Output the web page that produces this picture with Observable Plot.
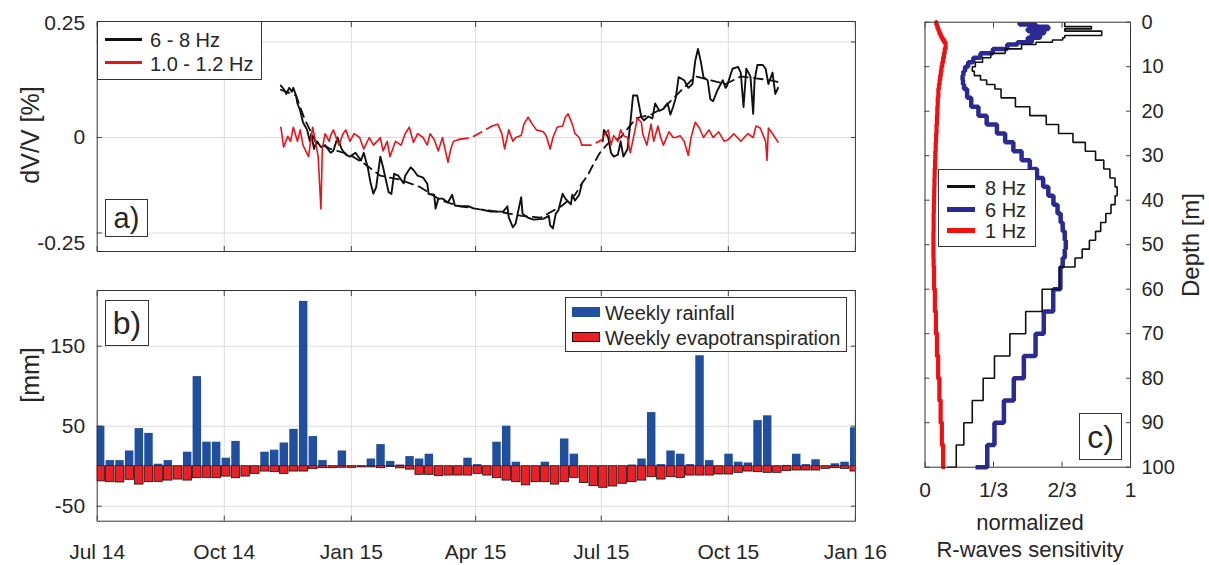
<!DOCTYPE html>
<html><head><meta charset="utf-8">
<script src="https://cdn.jsdelivr.net/npm/d3@7"></script>
<script src="https://cdn.jsdelivr.net/npm/@observablehq/plot@0.6"></script>
<style>
body{margin:0;background:#fff;}
#wrap{position:relative;width:1209px;height:565px;overflow:hidden;font-family:"Liberation Sans",Arial,sans-serif;color:#262626;background:#fff;}
#wrap svg{position:absolute;}
.box{position:absolute;border:1px solid #333;background:#fff;box-sizing:border-box;}
.t{position:absolute;white-space:nowrap;line-height:1;}
.rot{position:absolute;white-space:nowrap;line-height:1;transform:translate(-50%,-50%) rotate(-90deg);}
.ctr{position:absolute;white-space:nowrap;line-height:1;transform:translate(-50%,-50%);}
.sw{position:absolute;}
</style></head><body><div id="wrap"></div>
<script>
// ---------- DATA ----------
const monthTicks = ["2014-07-01","2014-10-01","2015-01-01","2015-04-01","2015-07-01","2015-10-01","2016-01-01"];
const monthLabels = ["Jul 14","Oct 14","Jan 15","Apr 15","Jul 15","Oct 15","Jan 16"];

// panel a: dV/V 6-8 Hz (raw, null = gap)
const black68Dates = ["2014-11-11","2014-11-13","2014-11-15","2014-11-17","2014-11-19","2014-11-20","2014-11-22","2014-11-23","2014-11-25","2014-11-27","2014-11-30","2014-12-02","2014-12-03","2014-12-05","2014-12-07","2014-12-10","2014-12-13","2014-12-17","2014-12-19","2014-12-22","2014-12-25","2014-12-28","2014-12-31","2015-01-04","2015-01-08","2015-01-10","2015-01-13","2015-01-15","2015-01-17","2015-01-19","2015-01-22","2015-01-24","2015-01-28","2015-01-30","2015-02-01","2015-02-04","2015-02-08","2015-02-09","2015-02-13","2015-02-15","2015-02-18","2015-02-22","2015-02-25","2015-02-26","2015-03-02","2015-03-03","2015-03-05","2015-03-08","2015-03-12","2015-03-15","2015-03-17","2015-03-21","2015-03-27","2015-03-30","2015-04-03",
"2015-04-06","2015-04-12","2015-04-17","2015-04-21","2015-04-24","2015-04-25","2015-04-28","2015-04-30","2015-05-02","2015-05-04","2015-05-05","2015-05-07","2015-05-09","2015-05-13","2015-05-20","2015-05-24","2015-05-25","2015-05-27","2015-05-29","2015-05-31","2015-06-03","2015-06-05","2015-06-09","2015-06-10","2015-06-12","2015-06-15","2015-06-17","2015-06-25",
"2015-07-02","2015-07-03","2015-07-06","2015-07-08","2015-07-10","2015-07-13","2015-07-15","2015-07-17","2015-07-20","2015-07-22","2015-07-24","2015-07-27","2015-07-30","2015-08-01","2015-08-04","2015-08-07","2015-08-09","2015-08-12","2015-08-15","2015-08-18","2015-08-20","2015-08-22","2015-08-24","2015-08-26","2015-08-30","2015-09-02","2015-09-05","2015-09-07","2015-09-09","2015-09-11","2015-09-13","2015-09-16","2015-09-18","2015-09-20","2015-09-23","2015-09-27","2015-09-29","2015-09-30","2015-10-04","2015-10-08","2015-10-10","2015-10-12","2015-10-14","2015-10-17","2015-10-19","2015-10-20","2015-10-22","2015-10-26","2015-10-28","2015-10-30","2015-11-02","2015-11-04","2015-11-06"];
const black68Values = [0.136,0.127,0.114,0.13,0.12,0.13,0.11,0.089,0.07,0.04,0.02,-0.01,0.01,-0.03,-0.01,-0.025,-0.02,-0.04,-0.035,0.0,-0.03,-0.045,-0.05,-0.04,-0.06,-0.04,-0.08,-0.12,-0.147,-0.13,-0.05,-0.078,-0.143,-0.148,-0.095,-0.10,-0.12,-0.10,-0.078,-0.085,-0.10,-0.105,-0.121,-0.148,-0.15,-0.186,-0.16,-0.16,-0.17,-0.15,-0.178,-0.18,-0.18,-0.185,null,
-0.189,-0.194,-0.194,-0.194,-0.18,-0.209,-0.235,-0.225,-0.19,-0.156,-0.2,-0.205,-0.21,-0.215,-0.213,-0.205,-0.23,-0.238,-0.2,-0.19,-0.147,-0.16,-0.175,-0.15,-0.165,-0.15,-0.12,null,
-0.01,0.02,0.0,-0.04,-0.05,-0.045,-0.01,-0.05,-0.03,0.036,0.11,0.11,0.053,0.045,0.055,0.05,0.089,0.07,0.075,0.09,0.06,0.08,0.105,0.158,0.15,0.13,0.14,0.2,0.232,0.2,0.158,0.15,0.1,0.095,0.123,0.15,0.13,0.135,0.18,0.185,0.17,0.08,0.18,0.16,0.062,0.15,0.19,0.19,0.18,0.14,0.17,0.114,0.13];

// panel a: 6-8 Hz smoothed trend (dashed)
const black68TrendDates = ["2014-11-11","2014-11-22","2014-11-28","2014-12-06","2014-12-17","2014-12-31","2015-01-11","2015-01-22","2015-02-05","2015-02-20","2015-03-07","2015-03-21","2015-04-04","2015-04-19","2015-05-04","2015-05-18","2015-06-02","2015-06-12","2015-06-17","2015-06-21","2015-06-26","2015-06-30","2015-07-06","2015-07-15","2015-07-26","2015-08-06","2015-08-16","2015-08-27","2015-09-07","2015-09-18","2015-09-29","2015-10-10","2015-10-21","2015-10-31","2015-11-06"];
const black68TrendValues = [0.125,0.11,0.05,-0.01,-0.03,-0.045,-0.07,-0.10,-0.11,-0.13,-0.165,-0.18,-0.188,-0.195,-0.205,-0.21,-0.18,-0.15,-0.12,-0.10,-0.065,-0.04,-0.015,0.0,0.05,0.06,0.08,0.12,0.16,0.15,0.14,0.16,0.155,0.15,0.145];

// panel a: dV/V 1.0-1.2 Hz (raw, null = gap)
const red1Dates = ["2014-11-11","2014-11-13","2014-11-16","2014-11-18","2014-11-20","2014-11-23","2014-11-25","2014-11-27","2014-12-01","2014-12-04","2014-12-06","2014-12-08","2014-12-10","2014-12-11","2014-12-13","2014-12-16","2014-12-17","2014-12-19","2014-12-23","2014-12-26","2014-12-28","2014-12-31","2015-01-03","2015-01-07","2015-01-10","2015-01-14","2015-01-17","2015-01-21","2015-01-22","2015-01-24","2015-01-27","2015-01-29","2015-02-02","2015-02-06","2015-02-09","2015-02-12","2015-02-15","2015-02-18","2015-02-22","2015-02-25","2015-02-27","2015-03-02","2015-03-05","2015-03-08","2015-03-12","2015-03-14","2015-03-16","2015-03-20","2015-04-01",
"2015-04-13","2015-04-17","2015-04-20","2015-04-22","2015-04-25","2015-04-28","2015-04-30","2015-05-04","2015-05-06","2015-05-09","2015-05-12","2015-05-15","2015-05-20","2015-05-22","2015-05-25","2015-05-27","2015-05-30","2015-06-03","2015-06-05","2015-06-07","2015-06-10","2015-06-12","2015-06-15","2015-06-17","2015-06-25",
"2015-07-02","2015-07-06","2015-07-08","2015-07-10","2015-07-13","2015-07-15","2015-07-17","2015-07-20","2015-07-22","2015-07-26","2015-07-27","2015-07-30","2015-07-31","2015-08-03","2015-08-06","2015-08-08","2015-08-11","2015-08-13","2015-08-15","2015-08-19","2015-08-22","2015-08-24","2015-08-27","2015-08-30","2015-09-02","2015-09-04","2015-09-07","2015-09-10","2015-09-13","2015-09-17","2015-09-20","2015-09-24","2015-09-28","2015-10-01","2015-10-05","2015-10-10","2015-10-15","2015-10-19","2015-10-21","2015-10-24","2015-10-28","2015-10-29","2015-10-30","2015-11-02","2015-11-06"];
const red1Values = [0.027,-0.025,0.003,-0.01,0.027,-0.01,0.02,-0.02,-0.05,0.027,-0.01,-0.05,-0.187,-0.03,0.01,-0.01,0.005,0.02,-0.02,0.01,0.02,-0.01,0.01,0.0,-0.03,0.0,-0.02,-0.005,0.0,-0.035,-0.01,-0.05,-0.01,-0.02,0.01,0.027,-0.013,0.01,0.0,-0.02,0.01,-0.005,-0.035,0.0,-0.065,-0.03,-0.01,-0.005,null,
0.03,0.035,0.01,-0.03,0.02,-0.01,0.0,0.005,0.035,0.053,0.035,0.02,0.015,0.005,-0.03,0.0,0.027,0.03,0.053,0.062,0.035,0.01,0.0,-0.02,null,
0.0,0.02,-0.02,0.005,-0.01,0.02,0.005,0.0,-0.04,0.03,0.05,0.04,0.01,-0.02,0.035,-0.01,0.03,0.0,-0.02,0.015,0.0,0.0,0.005,-0.01,-0.047,0.0,0.04,0.025,0.0,0.02,0.0,0.015,-0.01,-0.005,0.01,-0.01,0.01,0.0,0.03,0.025,-0.01,-0.06,0.025,0.01,-0.012];

// panel a: 1.0-1.2 Hz trend across the gaps (dashed)
const red1TrendDates = ["2015-03-20","2015-03-29","2015-04-04","2015-04-13","2015-05-01","2015-06-17","2015-06-24","2015-07-02"];
const red1TrendValues = [-0.005,0.0,0.012,0.03,null,-0.02,-0.02,-0.005];

const dvTicks = [-0.25, 0, 0.25];
const dvTickLabels = ["-0.25", "0", "0.25"];

// panel b: weekly rainfall and evapotranspiration [mm], weeks from Mon 2014-06-30
const weeklyRainfall = [50,7,7,19,47,41,2.5,7,0,17.5,112,30,30,10,31,0,0,17.5,20,29,46,206,37,7,0,19,0,0,9,27,6,1.5,12,9,15,0,0,0,10,2,0,30,50,5,0,0,5,0,34,15,0,0,0,0,0,1.5,9,67,2,19,15,2,138,7,0,15,5,4,57,63,0,1,15,2,8,0,3,5,48];
const weeklyET = [-19,-20,-20.4,-17,-23,-20,-19.6,-18,-16.7,-18,-15,-14.6,-15,-13,-15,-13,-9.6,-6.7,-7.5,-9.6,-6.7,-6.7,-3.75,-2.5,-2.5,-2,-2,-1.5,-1.5,-2.5,-1,-2.7,-4.3,-10.8,-10.8,-12.5,-11.7,-11.7,-11.7,-9.6,-11.7,-15,-18,-20,-24,-20,-20,-23,-20,-14.6,-21,-25,-27,-25.4,-22,-20,-18,-13.75,-16.7,-13.75,-14.6,-11.7,-11.7,-11.7,-10.4,-10.4,-8.3,-6.7,-7.5,-8.3,-8.3,-6.25,-5.4,-5.4,-5.4,-3.3,-2.5,-3.3,-6.7];
const mmTicks = [-50, 50, 150];

// panel c: layered sensitivity profiles (layer bottoms in m)
const layerBottoms = [0.5,1,1.5,2,2.5,3,3.5,4,4.5,5,6,7,8,9,10,11,12,13,14,15,17,19,21,23,25,27,29,31,33,35,37,39,41,43,45,47,49,51,53,55,60,65,70,75,80,85,90,95,100];
const sens8Hz = [0.68,0.68,0.81,0.68,0.86,0.86,0.68,0.67,0.62,0.54, 0.47,0.39,0.32,0.28,0.245,0.23,0.24,0.27,0.30,0.34, 0.37,0.44,0.51,0.59,0.65,0.72,0.78,0.83,0.87,0.90,0.925,0.935,0.925,0.905,0.88,0.855,0.83,0.80,0.765,0.73, 0.655,0.57,0.49,0.413,0.338,0.283,0.23,0.189,0.152];
const sens8HzHalfSpace = 0.108;
const sens6Hz = [0.46,0.54,0.60,0.50,0.58,0.52,0.56,0.50,0.52,0.45, 0.40,0.33,0.27,0.235,0.21,0.195,0.187,0.183,0.185,0.19, 0.205,0.225,0.26,0.30,0.35,0.39,0.43,0.47,0.51,0.545,0.575,0.60,0.625,0.645,0.66,0.67,0.68,0.685,0.68,0.67, 0.659,0.624,0.578,0.538,0.481,0.432,0.384,0.338,0.303];
const sens6HzHalfSpace = 0.246;
const sens1Hz = [0.055,0.058,0.062,0.066,0.07,0.075,0.08,0.086,0.093,0.10, 0.10,0.096,0.092,0.088,0.084,0.08,0.077,0.074,0.071,0.068, 0.065,0.062,0.06,0.058,0.056,0.054,0.052,0.05,0.049,0.047,0.046,0.045,0.044,0.043,0.042,0.042,0.041,0.041,0.041,0.042, 0.044,0.048,0.053,0.058,0.064,0.07,0.076,0.082,0.088];
const sens1HzHalfSpace = 0.09;
const depthTicks = [0,10,20,30,40,50,60,70,80,90,100];
const sensTicks = [0, 1/3, 2/3, 1];
const sensTickLabels = ["0","1/3","2/3","1"];

// ---------- BUILD ----------
const wrap = document.getElementById("wrap");
const parse = d3.utcParse("%Y-%m-%d");
const xT = monthTicks.map(parse);
const font = '"Liberation Sans", Arial, sans-serif';
const gridC = "#dcdcdc", frameC = "#333", tickC = "#444";
const RED = "#e8141c", BLUE = "#1f4f9e", NAVY = "#2a2a92";

const series = (ds, vs) => ds.map((d, i) => ({date: parse(d), v: vs[i]}));
const blackRaw = series(black68Dates, black68Values);
const blackTrend = series(black68TrendDates, black68TrendValues);
const redRaw = series(red1Dates, red1Values);
const redTrend = series(red1TrendDates, red1TrendValues);

function place(svg, left, top) { svg.style.left = left + "px"; svg.style.top = top + "px"; wrap.appendChild(svg); }
const baseStyle = {fontFamily: font, fontSize: "21px", color: "#262626", background: "transparent", overflow: "visible"};
const T = {label: null};

// Panel a
const pa = Plot.plot({
  width: 870, height: 260, marginLeft: 96.7, marginRight: 15.1, marginTop: 21, marginBottom: 9,
  style: baseStyle,
  x: {type: "utc", domain: [xT[0], xT[6]], axis: null, label: null},
  y: {domain: [-0.2984, 0.3037], axis: null, label: null},
  marks: [
    Plot.gridX(xT.slice(1, 6), {stroke: gridC, strokeOpacity: 1}),
    Plot.gridY(dvTicks, {stroke: gridC, strokeOpacity: 1}),
    Plot.line(blackTrend, {x: "date", y: "v", stroke: "#111", strokeWidth: 1.8, strokeDasharray: "9,6"}),
    Plot.line(blackRaw, {x: "date", y: "v", stroke: "#111", strokeWidth: 1.9}),
    Plot.line(redTrend, {x: "date", y: "v", stroke: RED, strokeWidth: 1.8, strokeDasharray: "9,6"}),
    Plot.line(redRaw, {x: "date", y: "v", stroke: RED, strokeWidth: 1.6}),
    Plot.frame({stroke: frameC}),
    Plot.axisX(xT, {...T, anchor: "bottom", tickSize: -5, tickFormat: () => "", stroke: tickC}),
    Plot.axisX(xT, {...T, anchor: "top", tickSize: -5, tickFormat: () => "", stroke: tickC}),
    Plot.axisY(dvTicks, {...T, anchor: "left", tickSize: -5, tickFormat: () => "", stroke: tickC}),
    Plot.axisY(dvTicks, {...T, anchor: "right", tickSize: -5, tickFormat: () => "", stroke: tickC}),
    Plot.axisY([dvTicks[2]], {...T, anchor: "left", tickSize: 0, tickPadding: 12, dy: -19, tickFormat: () => dvTickLabels[2]}),
    Plot.axisY([dvTicks[1]], {...T, anchor: "left", tickSize: 0, tickPadding: 12, tickFormat: () => dvTickLabels[1]}),
    Plot.axisY([dvTicks[0]], {...T, anchor: "left", tickSize: 0, tickPadding: 12, dy: 10, tickFormat: () => dvTickLabels[0]})
  ]
});
place(pa, 0, 0);

// Panel b
const weekStarts = d3.utcMonday.range(parse("2014-06-30"), parse("2015-12-29"));
const weeks = weekStarts.map((d, i) => ({x1: d, x2: d3.utcDay.offset(d, 7), rain: weeklyRainfall[i], et: weeklyET[i]}));
const pb = Plot.plot({
  width: 870, height: 295, marginLeft: 96.7, marginRight: 15.1, marginTop: 20, marginBottom: 44.3,
  style: baseStyle,
  x: {type: "utc", domain: [xT[0], xT[6]], axis: null, label: null},
  y: {domain: [-68.75, 219.6], axis: null, label: null},
  marks: [
    Plot.gridX(xT.slice(1, 6), {stroke: gridC, strokeOpacity: 1}),
    Plot.gridY(mmTicks, {stroke: gridC, strokeOpacity: 1}),
    Plot.rectY(weeks, {x1: "x1", x2: "x2", y: "rain", fill: BLUE, insetLeft: 0.6, insetRight: 0.6, clip: true}),
    Plot.rectY(weeks, {x1: "x1", x2: "x2", y: "et", fill: "#ea2027", stroke: "#111", strokeWidth: 0.8, insetLeft: 0.6, insetRight: 0.6, clip: true}),
    Plot.frame({stroke: frameC}),
    Plot.axisX(xT, {...T, anchor: "bottom", tickSize: -5, tickFormat: () => "", stroke: tickC}),
    Plot.axisX(xT, {...T, anchor: "top", tickSize: -5, tickFormat: () => "", stroke: tickC}),
    Plot.axisY(mmTicks, {...T, anchor: "left", tickSize: -5, tickFormat: () => "", stroke: tickC}),
    Plot.axisY(mmTicks, {...T, anchor: "right", tickSize: -5, tickFormat: () => "", stroke: tickC}),
    Plot.axisY(mmTicks, {...T, anchor: "left", tickSize: 0, tickPadding: 12, tickFormat: d => String(d)}),
    Plot.axisX(xT, {...T, anchor: "bottom", tickSize: 0, tickPadding: 22.6, tickFormat: d => monthLabels[xT.findIndex(t => +t === +d)]})
  ]
});
place(pb, 0, 270);

// Panel c
function profile(vals, hs) {
  const pts = []; let top = 0;
  vals.forEach((v, i) => { pts.push({s: v, d: top}); pts.push({s: v, d: layerBottoms[i]}); top = layerBottoms[i]; });
  pts.push({s: hs, d: 100});
  return pts;
}
const p8 = profile(sens8Hz, sens8HzHalfSpace);
const p6 = profile(sens6Hz, sens6HzHalfSpace);
const p1 = profile(sens1Hz, sens1HzHalfSpace);
const pc = Plot.plot({
  width: 329, height: 565, marginLeft: 44.5, marginRight: 79, marginTop: 21.7, marginBottom: 98.3,
  style: baseStyle,
  x: {domain: [0, 1], axis: null, label: null},
  y: {domain: [0, 100], reverse: true, axis: null, label: null},
  marks: [
    Plot.line(p6, {x: "s", y: "d", stroke: NAVY, strokeWidth: 4.5, strokeLinejoin: "miter", strokeLinecap: "butt"}),
    Plot.line(p8, {x: "s", y: "d", stroke: "#111", strokeWidth: 1.6, strokeLinejoin: "miter", strokeLinecap: "butt"}),
    Plot.line(p1, {x: "s", y: "d", stroke: "#f01010", strokeWidth: 4.2}),
    Plot.frame({stroke: frameC}),
    Plot.axisY(depthTicks, {...T, anchor: "left", tickSize: -5, tickFormat: () => "", stroke: tickC}),
    Plot.axisY(depthTicks, {...T, anchor: "right", tickSize: -5, tickFormat: () => "", stroke: tickC}),
    Plot.axisX(sensTicks, {...T, anchor: "bottom", tickSize: -5, tickFormat: () => "", stroke: tickC}),
    Plot.axisX(sensTicks, {...T, anchor: "top", tickSize: -5, tickFormat: () => "", stroke: tickC}),
    Plot.axisY(depthTicks, {...T, anchor: "right", tickSize: 0, tickPadding: 11, fontSize: 20, tickFormat: d => String(d)}),
    Plot.axisX(sensTicks, {...T, anchor: "bottom", tickSize: 0, tickPadding: 15, tickFormat: d => sensTickLabels[sensTicks.indexOf(d)]})
  ]
});
place(pc, 880, 0);

// ---------- HTML overlays: legends, panel letters, axis titles ----------
function el(cls, html, css) { const e = document.createElement("div"); e.className = cls; e.innerHTML = html; Object.assign(e.style, css); wrap.appendChild(e); return e; }

// panel a legend
el("box", "", {left: "97px", top: "21px", width: "165px", height: "59px"});
el("sw", "", {left: "105px", top: "37.8px", width: "37px", height: "3px", background: "#111"});
el("t", "6 - 8 Hz", {left: "150px", top: "30px", fontSize: "20px"});
el("sw", "", {left: "105px", top: "61.2px", width: "37px", height: "3px", background: RED});
el("t", "1.0 - 1.2 Hz", {left: "150px", top: "53.5px", fontSize: "20px"});

// panel b legend
el("box", "", {left: "565px", top: "296.7px", width: "282px", height: "55px"});
el("sw", "", {left: "572px", top: "306.7px", width: "28px", height: "10px", background: BLUE});
el("t", "Weekly rainfall", {left: "605px", top: "302.5px", fontSize: "20px"});
el("sw", "", {left: "572px", top: "331.7px", width: "28px", height: "10px", background: "#ea2027", boxSizing: "border-box", border: "1px solid #300"});
el("t", "Weekly evapotranspiration", {left: "605px", top: "327.5px", fontSize: "20px"});

// panel c legend
el("box", "", {left: "938px", top: "169px", width: "98px", height: "78px"});
el("sw", "", {left: "947px", top: "185.2px", width: "28px", height: "3px", background: "#111"});
el("t", "8 Hz", {left: "985px", top: "177.5px", fontSize: "20px"});
el("sw", "", {left: "947px", top: "207px", width: "28px", height: "4.5px", background: NAVY});
el("t", "6 Hz", {left: "985px", top: "199.5px", fontSize: "20px"});
el("sw", "", {left: "947px", top: "228px", width: "28px", height: "4.5px", background: "#f01010"});
el("t", "1 Hz", {left: "985px", top: "221px", fontSize: "20px"});

// panel letters
el("box", "", {left: "105px", top: "199px", width: "43px", height: "38px"});
el("ctr", "a)", {left: "126.5px", top: "218px", fontSize: "29px"});
el("box", "", {left: "105px", top: "300px", width: "44px", height: "46px"});
el("ctr", "b)", {left: "127px", top: "323px", fontSize: "32px"});
el("box", "", {left: "1079px", top: "413px", width: "43px", height: "47px"});
el("ctr", "c)", {left: "1100.5px", top: "436.5px", fontSize: "32px"});

// axis titles
el("rot", "dV/V [%]", {left: "30px", top: "135px", fontSize: "25px"});
el("rot", "[mm]", {left: "30px", top: "375px", fontSize: "25px"});
el("rot", "Depth [m]", {left: "1191px", top: "245px", fontSize: "24px"});
el("ctr", "normalized", {left: "1030px", top: "523px", fontSize: "22px"});
el("ctr", "R-waves sensitivity", {left: "1030px", top: "550px", fontSize: "22px"});
</script></body></html>
